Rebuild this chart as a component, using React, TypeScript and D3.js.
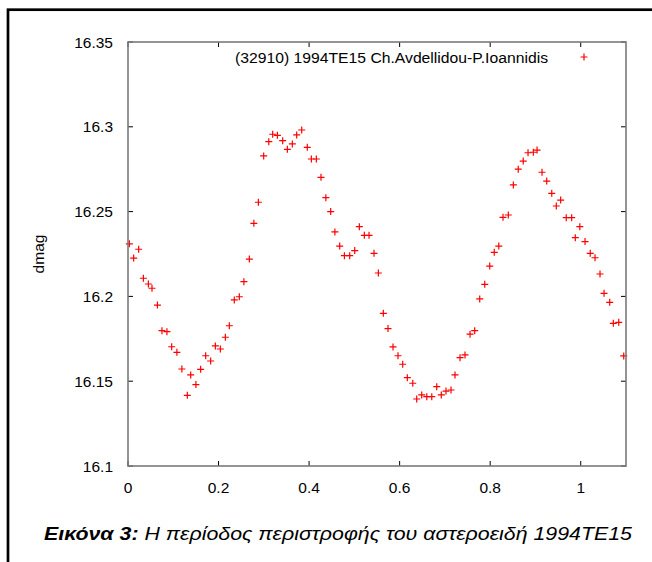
import React from "react";
import * as d3 from "d3";

const phase = [
  0.003, 0.0125, 0.0236, 0.034, 0.045, 0.053, 0.065, 0.075, 0.086, 0.0965,
  0.108, 0.119, 0.131, 0.1385, 0.15, 0.1605, 0.1716, 0.1826, 0.193, 0.204,
  0.215, 0.2238, 0.2348, 0.2459, 0.256, 0.268, 0.278, 0.288, 0.2997, 0.311,
  0.3196, 0.33, 0.3417, 0.352, 0.363, 0.3726, 0.3837, 0.396, 0.405, 0.416,
  0.4263, 0.437, 0.4477, 0.457, 0.4676, 0.478, 0.4897, 0.5008, 0.511, 0.522,
  0.5324, 0.5434, 0.553, 0.564, 0.5743, 0.5854, 0.5964, 0.6068, 0.617, 0.629,
  0.6377, 0.6488, 0.66, 0.671, 0.682, 0.692, 0.7024, 0.7135, 0.7223, 0.7334,
  0.7444, 0.7555, 0.7658, 0.7769, 0.788, 0.799, 0.809, 0.819, 0.8283, 0.84,
  0.8512, 0.862, 0.873, 0.8836, 0.8953, 0.9035, 0.9145, 0.9249, 0.936, 0.946,
  0.9557, 0.968, 0.98, 0.988, 0.998, 1.0095, 1.021, 1.0316, 1.0426, 1.0515,
  1.064, 1.072, 1.084, 1.095,
];

const dmag = [
  16.231, 16.2226, 16.2278, 16.2107, 16.2073, 16.2048, 16.1949, 16.1798, 16.1792, 16.1703,
  16.167, 16.1572, 16.1417, 16.1537, 16.148, 16.157, 16.165, 16.1619, 16.1708, 16.169,
  16.1759, 16.1827, 16.1979, 16.1998, 16.2087, 16.222, 16.2431, 16.2555, 16.2828, 16.2912,
  16.2956, 16.295, 16.2918, 16.2867, 16.2899, 16.2952, 16.2981, 16.2879, 16.281, 16.281,
  16.2702, 16.2582, 16.25, 16.238, 16.2297, 16.224, 16.224, 16.227, 16.2411, 16.236,
  16.236, 16.2254, 16.2138, 16.19, 16.181, 16.1702, 16.165, 16.16, 16.1521, 16.1488,
  16.1395, 16.1419, 16.1409, 16.1409, 16.1468, 16.1419, 16.1442, 16.1448, 16.1537, 16.1639,
  16.1655, 16.1777, 16.1798, 16.1985, 16.2071, 16.2179, 16.226, 16.2297, 16.2466, 16.248,
  16.2657, 16.275, 16.2798, 16.2847, 16.285, 16.2863, 16.2732, 16.268, 16.2608, 16.2533,
  16.2568, 16.2464, 16.2464, 16.2346, 16.2411, 16.2323, 16.2254, 16.2228, 16.2132, 16.2018,
  16.1965, 16.1841, 16.1847, 16.1649,
];

const xTicks = [0, 0.2, 0.4, 0.6, 0.8, 1];
const xTickLabels = ["0", "0.2", "0.4", "0.6", "0.8", "1"];
const yTicks = [16.1, 16.15, 16.2, 16.25, 16.3, 16.35];
const yTickLabels = ["16.1", "16.15", "16.2", "16.25", "16.3", "16.35"];

const legendLabel = "(32910) 1994TE15 Ch.Avdellidou-P.Ioannidis";
const yLabel = "dmag";
const captionBold = "Εικόνα 3:";
const captionRest = " Η περίοδος περιστροφής του αστεροειδή 1994TE15";

const W = 652;
const H = 562;
const L = 128;
const R = 626;
const T = 42;
const B = 466;
const FONT = "'Liberation Sans', Arial, Helvetica, sans-serif";

export default function App() {
  const x = d3.scaleLinear().domain([0, 1.1]).range([L, R]);
  const y = d3.scaleLinear().domain([16.1, 16.35]).range([B, T]);
  const tick = 5;
  const s = 3.5;
  const plus = (cx: number, cy: number) => `M${cx - s},${cy}H${cx + s}M${cx},${cy - s}V${cy + s}`;

  return (
    <svg
      width={W}
      height={H}
      style={{ position: "absolute", left: 0, top: 0, background: "#fff" }}
      fontFamily={FONT}
    >
      <rect x={0} y={0} width={W} height={H} fill="#fff" />
      <rect x={8} y={9.7} width={W + 50} height={H + 50} fill="none" stroke="#000" strokeWidth={2.7} />

      {/* ticks */}
      <g stroke="#000" strokeWidth={1}>
        {xTicks.map((t, i) => (
          <g key={"xt" + i}>
            <line x1={x(t)} x2={x(t)} y1={B} y2={B - tick} />
            <line x1={x(t)} x2={x(t)} y1={T} y2={T + tick} />
          </g>
        ))}
        {yTicks.map((t, i) => (
          <g key={"yt" + i}>
            <line x1={L} x2={L + tick} y1={y(t)} y2={y(t)} />
            <line x1={R} x2={R - tick} y1={y(t)} y2={y(t)} />
          </g>
        ))}
      </g>

      {/* tick labels */}
      <g fontSize={15.5} fill="#000">
        {xTicks.map((t, i) => (
          <text key={"xl" + i} x={x(t)} y={487} textAnchor="middle" dominantBaseline="central">
            {xTickLabels[i]}
          </text>
        ))}
        {yTicks.map((t, i) => (
          <text key={"yl" + i} x={113} y={y(t)} textAnchor="end" dominantBaseline="central">
            {yTickLabels[i]}
          </text>
        ))}
      </g>

      <text
        x={38}
        y={(T + B) / 2}
        fontSize={15.5}
        textAnchor="middle"
        dominantBaseline="central"
        transform={`rotate(-90, 38, ${(T + B) / 2})`}
      >
        {yLabel}
      </text>

      {/* legend */}
      <text
        x={235}
        y={57}
        fontSize={15.5}
        dominantBaseline="central"
        textLength={313}
        lengthAdjust="spacingAndGlyphs"
      >
        {legendLabel}
      </text>
      <path d={plus(584, 57)} stroke="#ff0000" strokeWidth={1.2} fill="none" />

      {/* points */}
      <g stroke="#ff0000" strokeWidth={1.2} fill="none">
        {phase.map((p, i) => (
          <path key={"p" + i} d={plus(x(p), y(dmag[i]))} />
        ))}
      </g>

      {/* frame */}
      <rect x={L} y={T} width={R - L} height={B - T} fill="none" stroke="#7a7a7a" strokeWidth={1.6} />

      {/* caption */}
      <text x={44} y={540} fontSize={18.5} fontStyle="italic" textLength={588} lengthAdjust="spacingAndGlyphs">
        <tspan fontWeight="bold">{captionBold}</tspan>
        <tspan>{captionRest}</tspan>
      </text>
    </svg>
  );
}
